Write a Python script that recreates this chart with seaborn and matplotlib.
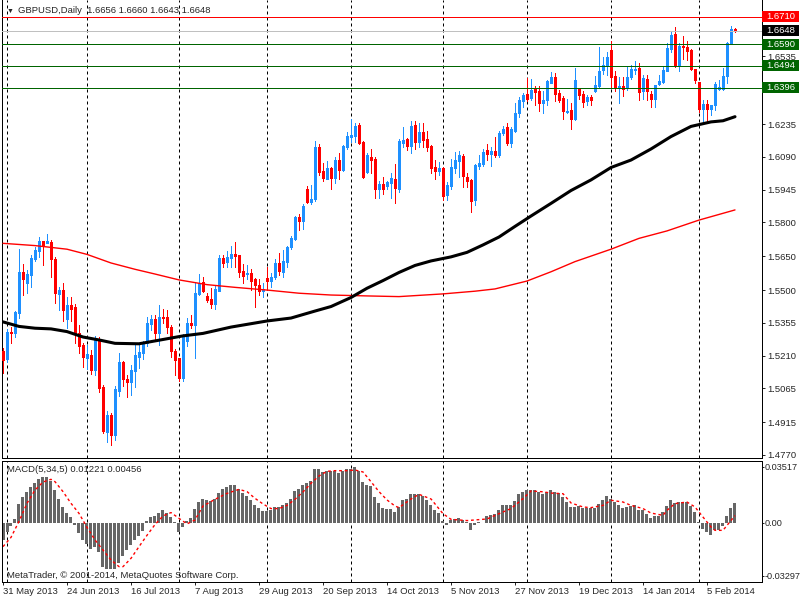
import matplotlib
matplotlib.use("Agg")
import matplotlib.pyplot as plt
import matplotlib.transforms as mtransforms
from matplotlib.patches import Rectangle
import seaborn as sns

# GBPUSD daily candles, bar 0 = 31 May 2013
opens = [1.5231, 1.5195, 1.5316, 1.5308, 1.5400, 1.5580, 1.5533, 1.5568, 1.5639, 1.5672,
         1.5716, 1.5707, 1.5713, 1.5636, 1.5483, 1.5500, 1.5373, 1.5433, 1.5424, 1.5308,
         1.5255, 1.5199, 1.5211, 1.5146, 1.5279, 1.5072, 1.4871, 1.4945, 1.4859, 1.5054,
         1.5181, 1.5105, 1.5093, 1.5143, 1.5205, 1.5220, 1.5264, 1.5350, 1.5370, 1.5311,
         1.5379, 1.5379, 1.5335, 1.5231, 1.5199, 1.5110, 1.5276, 1.5353, 1.5344, 1.5483,
         1.5536, 1.5474, 1.5462, 1.5438, 1.5497, 1.5642, 1.5624, 1.5642, 1.5660, 1.5654,
         1.5583, 1.5571, 1.5574, 1.5548, 1.5524, 1.5497, 1.5553, 1.5539, 1.5557, 1.5619,
         1.5580, 1.5624, 1.5689, 1.5728, 1.5825, 1.5805, 1.5946, 1.5890, 1.5905, 1.6135,
         1.6029, 1.5993, 1.6041, 1.5996, 1.6076, 1.6032, 1.6135, 1.6179, 1.6183, 1.6233,
         1.6156, 1.6023, 1.6091, 1.6082, 1.5949, 1.5970, 1.5961, 1.5976, 1.5993, 1.5949,
         1.6153, 1.6171, 1.6138, 1.6233, 1.6156, 1.6200, 1.6168, 1.6138, 1.6044, 1.6029,
         1.6041, 1.5920, 1.5961, 1.6041, 1.6073, 1.6094, 1.6002, 1.5988, 1.5899, 1.6050,
         1.6058, 1.6121, 1.6103, 1.6117, 1.6100, 1.6194, 1.6221, 1.6150, 1.6206, 1.6283,
         1.6336, 1.6369, 1.6351, 1.6389, 1.6381, 1.6330, 1.6342, 1.6419, 1.6443, 1.6374,
         1.6351, 1.6289, 1.6298, 1.6259, 1.6389, 1.6369, 1.6336, 1.6354, 1.6383, 1.6404,
         1.6475, 1.6493, 1.6564, 1.6448, 1.6398, 1.6404, 1.6395, 1.6445, 1.6475, 1.6484,
         1.6383, 1.6436, 1.6369, 1.6345, 1.6413, 1.6422, 1.6472, 1.6569, 1.6634, 1.6496,
         1.6581, 1.6578, 1.6564, 1.6481, 1.6422, 1.6301, 1.6324, 1.6303, 1.6318, 1.6392,
         1.6392, 1.6448, 1.6593, 1.6656]
highs = [1.5243, 1.5328, 1.5338, 1.5409, 1.5682, 1.5615, 1.5589, 1.5654, 1.5689, 1.5736,
         1.5716, 1.5748, 1.5722, 1.5648, 1.5515, 1.5530, 1.5471, 1.5471, 1.5438, 1.5344,
         1.5264, 1.5255, 1.5235, 1.5297, 1.5294, 1.5078, 1.4966, 1.4957, 1.5075, 1.5220,
         1.5187, 1.5125, 1.5169, 1.5258, 1.5264, 1.5273, 1.5379, 1.5391, 1.5391, 1.5433,
         1.5415, 1.5412, 1.5344, 1.5237, 1.5199, 1.5305, 1.5376, 1.5390, 1.5530, 1.5571,
         1.5557, 1.5488, 1.5509, 1.5518, 1.5654, 1.5654, 1.5672, 1.5695, 1.5713, 1.5654,
         1.5615, 1.5612, 1.5595, 1.5553, 1.5548, 1.5530, 1.5601, 1.5574, 1.5639, 1.5666,
         1.5678, 1.5695, 1.5740, 1.5828, 1.5837, 1.5881, 1.5961, 1.5964, 1.6162, 1.6147,
         1.6064, 1.6070, 1.6047, 1.6088, 1.6106, 1.6144, 1.6200, 1.6257, 1.6239, 1.6239,
         1.6162, 1.6106, 1.6124, 1.6088, 1.5982, 1.6002, 1.5985, 1.6017, 1.6058, 1.6171,
         1.6224, 1.6174, 1.6248, 1.6250, 1.6241, 1.6239, 1.6206, 1.6144, 1.6076, 1.6067,
         1.6044, 1.5979, 1.6082, 1.6112, 1.6115, 1.6103, 1.6020, 1.5993, 1.6058, 1.6100,
         1.6126, 1.6147, 1.6132, 1.6177, 1.6206, 1.6227, 1.6241, 1.6224, 1.6327, 1.6354,
         1.6374, 1.6440, 1.6434, 1.6404, 1.6404, 1.6381, 1.6431, 1.6466, 1.6460, 1.6386,
         1.6360, 1.6348, 1.6327, 1.6484, 1.6389, 1.6383, 1.6365, 1.6363, 1.6448, 1.6578,
         1.6531, 1.6555, 1.6605, 1.6472, 1.6445, 1.6443, 1.6490, 1.6498, 1.6513, 1.6507,
         1.6451, 1.6451, 1.6383, 1.6410, 1.6454, 1.6490, 1.6593, 1.6643, 1.6667, 1.6593,
         1.6626, 1.6605, 1.6569, 1.6481, 1.6422, 1.6342, 1.6342, 1.6321, 1.6422, 1.6431,
         1.6484, 1.6599, 1.6670, 1.6660]
lows = [1.5134, 1.5183, 1.5267, 1.5291, 1.5378, 1.5479, 1.5488, 1.5515, 1.5630, 1.5648,
        1.5612, 1.5707, 1.5559, 1.5444, 1.5412, 1.5364, 1.5332, 1.5364, 1.5267, 1.5220,
        1.5161, 1.5152, 1.5128, 1.5122, 1.5048, 1.4865, 1.4827, 1.4815, 1.4836, 1.5031,
        1.5075, 1.5025, 1.5037, 1.5072, 1.5155, 1.5193, 1.5252, 1.5323, 1.5279, 1.5258,
        1.5353, 1.5308, 1.5205, 1.5122, 1.5098, 1.5098, 1.5252, 1.5332, 1.5198, 1.5477,
        1.5492, 1.5447, 1.5421, 1.5415, 1.5497, 1.5604, 1.5604, 1.5604, 1.5604, 1.5557,
        1.5533, 1.5550, 1.5500, 1.5424, 1.5477, 1.5471, 1.5500, 1.5515, 1.5550, 1.5568,
        1.5559, 1.5604, 1.5683, 1.5722, 1.5766, 1.5772, 1.5884, 1.5881, 1.5896, 1.6011,
        1.5985, 1.5991, 1.5949, 1.5976, 1.5993, 1.6026, 1.6124, 1.6156, 1.6156, 1.6147,
        1.5996, 1.6017, 1.6017, 1.5908, 1.5908, 1.5926, 1.5946, 1.5908, 1.5887, 1.5934,
        1.6135, 1.6121, 1.6109, 1.6124, 1.6132, 1.6132, 1.6117, 1.6020, 1.5993, 1.6008,
        1.5899, 1.5899, 1.5946, 1.6017, 1.6002, 1.5958, 1.5958, 1.5846, 1.5876, 1.6035,
        1.6050, 1.6076, 1.6050, 1.6088, 1.6091, 1.6188, 1.6141, 1.6135, 1.6200, 1.6268,
        1.6312, 1.6336, 1.6342, 1.6321, 1.6292, 1.6283, 1.6319, 1.6419, 1.6336, 1.6333,
        1.6259, 1.6283, 1.6215, 1.6253, 1.6348, 1.6312, 1.6318, 1.6318, 1.6377, 1.6398,
        1.6457, 1.6454, 1.6401, 1.6383, 1.6330, 1.6360, 1.6386, 1.6436, 1.6457, 1.6342,
        1.6345, 1.6342, 1.6310, 1.6310, 1.6407, 1.6416, 1.6469, 1.6555, 1.6490, 1.6472,
        1.6522, 1.6519, 1.6475, 1.6419, 1.6289, 1.6248, 1.6245, 1.6277, 1.6298, 1.6386,
        1.6386, 1.6419, 1.6593, 1.6643]
closes = [1.5190, 1.5313, 1.5311, 1.5403, 1.5580, 1.5550, 1.5571, 1.5642, 1.5678, 1.5716,
          1.5701, 1.5716, 1.5636, 1.5486, 1.5500, 1.5412, 1.5433, 1.5415, 1.5311, 1.5252,
          1.5202, 1.5217, 1.5146, 1.5279, 1.5066, 1.4877, 1.4945, 1.4859, 1.5060, 1.5181,
          1.5105, 1.5093, 1.5146, 1.5211, 1.5226, 1.5264, 1.5353, 1.5370, 1.5311, 1.5379,
          1.5375, 1.5338, 1.5231, 1.5190, 1.5110, 1.5293, 1.5353, 1.5347, 1.5488, 1.5533,
          1.5495, 1.5456, 1.5438, 1.5503, 1.5642, 1.5621, 1.5645, 1.5660, 1.5651, 1.5580,
          1.5562, 1.5577, 1.5542, 1.5524, 1.5497, 1.5503, 1.5539, 1.5559, 1.5619, 1.5583,
          1.5627, 1.5689, 1.5731, 1.5822, 1.5805, 1.5872, 1.5890, 1.5905, 1.6135, 1.6023,
          1.5996, 1.6041, 1.5996, 1.6076, 1.6032, 1.6138, 1.6183, 1.6188, 1.6227, 1.6153,
          1.6002, 1.6097, 1.6076, 1.5949, 1.5970, 1.5949, 1.5979, 1.5996, 1.5952, 1.6162,
          1.6165, 1.6138, 1.6227, 1.6156, 1.6200, 1.6165, 1.6132, 1.6041, 1.6029, 1.6041,
          1.5917, 1.5964, 1.6044, 1.6076, 1.6097, 1.6005, 1.5985, 1.5896, 1.6053, 1.6064,
          1.6112, 1.6103, 1.6117, 1.6100, 1.6197, 1.6212, 1.6150, 1.6212, 1.6286, 1.6342,
          1.6363, 1.6348, 1.6386, 1.6377, 1.6330, 1.6342, 1.6425, 1.6445, 1.6369, 1.6342,
          1.6295, 1.6295, 1.6259, 1.6431, 1.6365, 1.6333, 1.6354, 1.6342, 1.6407, 1.6472,
          1.6496, 1.6531, 1.6445, 1.6395, 1.6404, 1.6389, 1.6445, 1.6481, 1.6481, 1.6377,
          1.6440, 1.6383, 1.6345, 1.6410, 1.6425, 1.6475, 1.6572, 1.6631, 1.6493, 1.6581,
          1.6575, 1.6560, 1.6478, 1.6431, 1.6301, 1.6324, 1.6303, 1.6318, 1.6413, 1.6398,
          1.6448, 1.6596, 1.6655, 1.6648]

# moving averages (read at selected bars)
ma_black_bars = [0, 4, 8, 12, 16, 20, 24, 28, 34, 40, 45, 50, 57, 66, 72, 78, 82, 87, 91, 95,
                 99, 103, 107, 112, 116, 120, 124, 128, 132, 137, 142, 147, 152, 157, 162,
                 167, 172, 177, 180, 183]
ma_black_vals = [1.5359, 1.5339, 1.5331, 1.5328, 1.5316, 1.5292, 1.5279, 1.5264, 1.5262,
                 1.5281, 1.5297, 1.5308, 1.5336, 1.5363, 1.5376, 1.5407, 1.5427, 1.5467,
                 1.5508, 1.5542, 1.5578, 1.5609, 1.5629, 1.5647, 1.5667, 1.5700, 1.5735,
                 1.5782, 1.5828, 1.5884, 1.5941, 1.5988, 1.6043, 1.6076, 1.6125, 1.6180,
                 1.6225, 1.6245, 1.6250, 1.6268]
ma_red_bars = [0, 8, 16, 21, 27, 33, 38, 44, 51, 58, 66, 74, 82, 91, 99, 110, 118, 123, 131,
               137, 143, 152, 159, 166, 174, 183]
ma_red_vals = [1.5707, 1.5697, 1.5681, 1.5658, 1.5620, 1.5592, 1.5571, 1.5545, 1.5524,
               1.5512, 1.5500, 1.5486, 1.5478, 1.5474, 1.5471, 1.5483, 1.5495, 1.5505,
               1.5540, 1.5581, 1.5626, 1.5681, 1.5729, 1.5762, 1.5810, 1.5855]

# MACD(5,34,5) histogram per bar, signal read at selected bars
macd_hist = [-0.0106, -0.0056, -0.0019, 0.0027, 0.0119, 0.0163, 0.0194, 0.0227, 0.0252, 0.0273,
             0.0285, 0.0290, 0.0260, 0.0206, 0.0152, 0.0098, 0.0065, 0.0035, -0.0015, -0.0065,
             -0.0106, -0.0131, -0.0160, -0.0148, -0.0181, -0.0273, -0.0285, -0.0285, -0.0290, -0.0252,
             -0.0206, -0.0169, -0.0135, -0.0106, -0.0081, -0.0048, 0.0010, 0.0040, 0.0044, 0.0065,
             0.0081, 0.0065, 0.0040, 0.0006, -0.0054, -0.0027, 0.0015, 0.0031, 0.0090, 0.0131,
             0.0148, 0.0144, 0.0140, 0.0152, 0.0190, 0.0210, 0.0227, 0.0235, 0.0235, 0.0215,
             0.0190, 0.0169, 0.0144, 0.0115, 0.0094, 0.0077, 0.0077, 0.0081, 0.0098, 0.0102,
             0.0115, 0.0127, 0.0152, 0.0198, 0.0210, 0.0240, 0.0248, 0.0265, 0.0340, 0.0340,
             0.0319, 0.0327, 0.0327, 0.0323, 0.0315, 0.0323, 0.0335, 0.0340, 0.0348, 0.0323,
             0.0256, 0.0240, 0.0231, 0.0165, 0.0127, 0.0094, 0.0090, 0.0090, 0.0069, 0.0102,
             0.0146, 0.0152, 0.0183, 0.0183, 0.0179, 0.0171, 0.0142, 0.0110, 0.0083, 0.0063,
             0.0012, -0.0013, 0.0017, 0.0025, 0.0033, 0.0021, 0.0008, -0.0042, -0.0015, 0.0004,
             0.0002, 0.0046, 0.0050, 0.0058, 0.0083, 0.0112, 0.0112, 0.0112, 0.0137, 0.0179,
             0.0196, 0.0208, 0.0208, 0.0208, 0.0196, 0.0179, 0.0196, 0.0204, 0.0192, 0.0187,
             0.0162, 0.0129, 0.0100, 0.0100, 0.0104, 0.0096, 0.0092, 0.0092, 0.0096, 0.0121,
             0.0146, 0.0167, 0.0150, 0.0133, 0.0112, 0.0096, 0.0100, 0.0104, 0.0112, 0.0079,
             0.0079, 0.0054, 0.0033, 0.0042, 0.0046, 0.0067, 0.0104, 0.0142, 0.0125, 0.0133,
             0.0133, 0.0133, 0.0104, 0.0067, 0.0008, -0.0038, -0.0058, -0.0075, -0.0046, -0.0042,
             -0.0017, 0.0046, 0.0096, 0.0122]
signal_bars = [0, 2, 4, 6, 8, 10, 12, 13, 15, 17, 19, 21, 23, 25, 27, 29, 30, 32, 34, 36, 38,
               40, 42, 44, 46, 48, 50, 53, 56, 59, 61, 63, 65, 67, 69, 71, 73, 75, 77, 79, 81,
               83, 86, 88, 90, 92, 94, 96, 98, 99, 102, 104, 107, 110, 112, 116, 121, 124, 127,
               130, 132, 135, 137, 140, 142, 145, 147, 150, 152, 155, 157, 160, 162, 165, 166,
               168, 171, 173, 175, 177, 178, 180, 181, 183]
signal_vals = [-0.0148, -0.0090, 0.0010, 0.0123, 0.0206, 0.0256, 0.0273, 0.0258, 0.0196, 0.0123,
               0.0060, -0.0027, -0.0106, -0.0169, -0.0231, -0.0273, -0.0273, -0.0221, -0.0148,
               -0.0077, -0.0010, 0.0044, 0.0065, 0.0029, -0.0006, 0.0019, 0.0106, 0.0148, 0.0185,
               0.0210, 0.0196, 0.0154, 0.0119, 0.0090, 0.0090, 0.0110, 0.0148, 0.0194, 0.0248,
               0.0294, 0.0323, 0.0327, 0.0327, 0.0331, 0.0319, 0.0258, 0.0196, 0.0144, 0.0106,
               0.0096, 0.0150, 0.0179, 0.0150, 0.0058, 0.0023, 0.0015, 0.0025, 0.0058, 0.0090,
               0.0152, 0.0200, 0.0195, 0.0187, 0.0183, 0.0125, 0.0100, 0.0096, 0.0110, 0.0142,
               0.0131, 0.0110, 0.0090, 0.0062, 0.0048, 0.0079, 0.0121, 0.0131, 0.0100, 0.0037,
               -0.0025, -0.0046, -0.0046, -0.0015, 0.0046]

# horizontal levels on the price panel
level_vals = [1.6710, 1.6648, 1.6590, 1.6494, 1.6396]
level_colors = ['#FF0000', '#C0C0C0', '#006400', '#006400', '#006400']
level_box_colors = ['#FF0000', '#000000', '#006400', '#006400', '#006400']

price_ticks = [1.6535, 1.6235, 1.6090, 1.5945, 1.5800, 1.5650, 1.5500, 1.5355,
               1.5210, 1.5065, 1.4915, 1.4770]
macd_ticks = [0.03517, 0.0, -0.03297]
macd_tick_labels = ['0.03517', '0.00', '-0.03297']

month_bars = [1, 21, 44, 66, 87, 110, 131, 152, 174]
date_bars = [0, 16, 32, 48, 64, 80, 96, 112, 128, 144, 160, 176]
date_labels = ['31 May 2013', '24 Jun 2013', '16 Jul 2013', '7 Aug 2013', '29 Aug 2013',
               '20 Sep 2013', '14 Oct 2013', '5 Nov 2013', '27 Nov 2013', '19 Dec 2013',
               '14 Jan 2014', '5 Feb 2014']

sns.set_style("white")
plt.rcParams['font.family'] = ['Liberation Sans', 'DejaVu Sans']
FS = 6.8
LW = 0.72  # one pixel

W, H = 800, 600
fig = plt.figure(figsize=(8, 6), dpi=100)
ax = fig.add_axes([2 / W, 1 - 458 / H, 760 / W, 458 / H])
ax_m = fig.add_axes([2 / W, 1 - 582 / H, 760 / W, 121 / H])

bars = list(range(len(closes)))
colors = ['#1E90FF' if c >= o else '#FF0000' for o, c in zip(opens, closes)]
body_low = [min(o, c) for o, c in zip(opens, closes)]
body_h = [abs(c - o) for o, c in zip(opens, closes)]

# month separators
for a in (ax, ax_m):
    for b in month_bars:
        a.axvline(b, color='black', lw=LW, ls=(0, (3, 3)), zorder=0.5)

# candles
ax.vlines(bars, lows, highs, colors=colors, linewidth=LW, antialiased=False, zorder=2)
ax.bar(bars, body_h, bottom=body_low, width=0.5, color=colors, edgecolor=colors,
       linewidth=LW, antialiased=False, zorder=3)

# moving averages
sns.lineplot(x=ma_red_bars, y=ma_red_vals, ax=ax, color='#FF0000', linewidth=1.0,
             estimator=None, zorder=4)
sns.lineplot(x=ma_black_bars, y=ma_black_vals, ax=ax, color='black', linewidth=2.2,
             estimator=None, zorder=4)

# levels + right-hand price boxes
px = (1.6785 - 1.4756) / 458.0
tr = mtransforms.blended_transform_factory(ax.transAxes, ax.transData)
for lv, lc, bc in zip(level_vals, level_colors, level_box_colors):
    ax.axhline(lv, color=lc, lw=LW, antialiased=False, zorder=5)
    ax.add_patch(Rectangle((1.0, lv - 5.5 * px), 37 / 760, 11 * px, transform=tr,
                           facecolor=bc, edgecolor=bc, lw=0, clip_on=False, zorder=6))
    ax.text(1.0 + 4 / 760, lv, f'{lv:.4f}', transform=tr, color='white', fontsize=FS,
            ha='left', va='center', zorder=7, clip_on=False)

ax.set_xlim(-0.25, 189.75)
ax.set_ylim(1.4756, 1.6785)
ax.set_xticks([])
ax.yaxis.tick_right()
ax.set_yticks(price_ticks)
ax.set_yticklabels([f'{v:.4f}' for v in price_ticks])
ax.tick_params(axis='y', direction='out', length=2.2, width=LW, pad=1.5, labelsize=FS,
               right=True, left=False)

# MACD panel
ax_m.bar(bars, macd_hist, width=0.75, color='#666666', linewidth=0, antialiased=False)
sns.lineplot(x=signal_bars, y=signal_vals, ax=ax_m, color='#FF0000', linewidth=1.0,
             linestyle=(0, (2, 2)), estimator=None)
ax_m.set_xlim(-0.25, 189.75)
ax_m.set_ylim(-0.0369, 0.03875)
ax_m.yaxis.tick_right()
ax_m.set_yticks(macd_ticks)
ax_m.set_yticklabels(macd_tick_labels)
ax_m.set_xticks(date_bars)
ax_m.set_xticklabels(date_labels, ha='left')
ax_m.tick_params(axis='y', direction='out', length=1.5, width=LW, pad=0.3, labelsize=FS - 0.2,
                 right=True, left=False)
ax_m.tick_params(axis='x', direction='out', length=2.5, width=LW, pad=1.2, labelsize=FS,
                 bottom=True)

for a in (ax, ax_m):
    a.set_xlabel('')
    a.set_ylabel('')
    for s in a.spines.values():
        s.set_color('black')
        s.set_linewidth(LW)
        s.set_visible(True)
ax.spines['top'].set_visible(False)

# captions
fig.text(7 / W, 1 - 11 / H, '\u25bc', fontsize=5, ha='left', va='center')
fig.text(18 / W, 1 - 10.5 / H, 'GBPUSD,Daily  1.6656 1.6660 1.6643 1.6648', fontsize=FS,
         ha='left', va='center')
fig.text(7 / W, 1 - 470 / H, 'MACD(5,34,5) 0.01221 0.00456', fontsize=FS, ha='left', va='center')
fig.text(7 / W, 1 - 575 / H, 'MetaTrader, \u00a9 2001-2014, MetaQuotes Software Corp.',
         fontsize=FS, ha='left', va='center')

fig.savefig('out.png', dpi=100, facecolor='white')
